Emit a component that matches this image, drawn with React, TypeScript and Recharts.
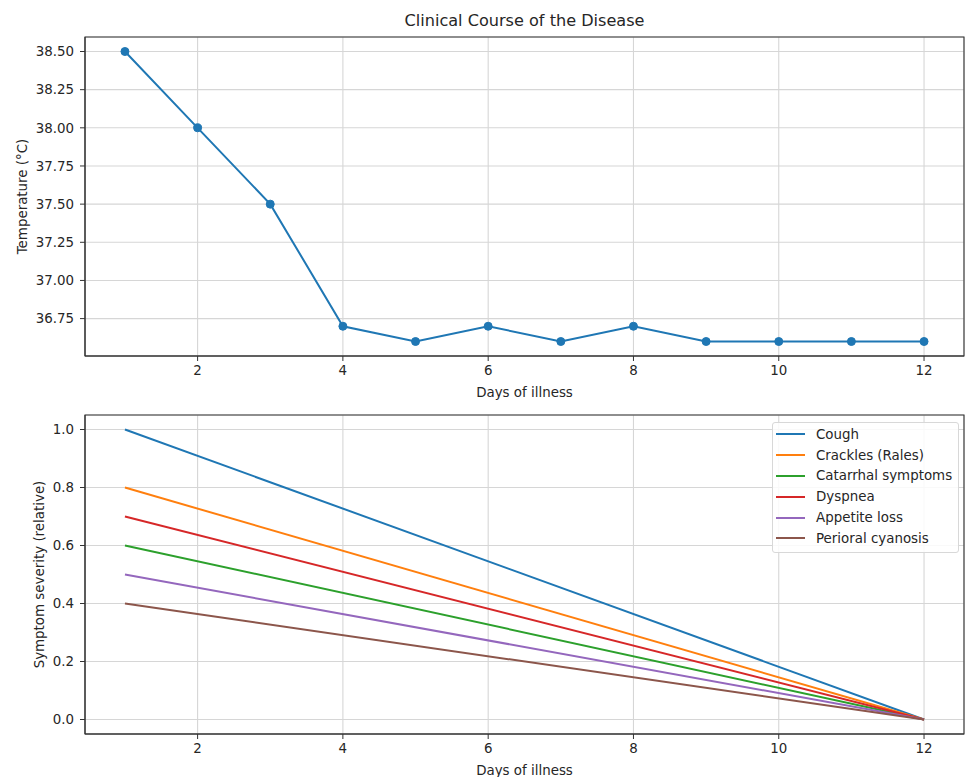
import React from "react";
import {
  LineChart,
  Line,
  XAxis,
  YAxis,
  CartesianGrid,
  Legend,
  ReferenceArea,
} from "recharts";

// temperature course, one reading per day
const days = [1, 2, 3, 4, 5, 6, 7, 8, 9, 10, 11, 12];
const temperature = [38.5, 38.0, 37.5, 36.7, 36.6, 36.7, 36.6, 36.7, 36.6, 36.6, 36.6, 36.6];

// symptom lines only have a start (day 1) and end (day 12) value
const severityDays = [1, 12];
const cough = [1.0, 0.0];
const crackles = [0.8, 0.0];
const catarrhal = [0.6, 0.0];
const dyspnea = [0.7, 0.0];
const appetiteLoss = [0.5, 0.0];
const perioralCyanosis = [0.4, 0.0];

const symptomNames = [
  "Cough",
  "Crackles (Rales)",
  "Catarrhal symptoms",
  "Dyspnea",
  "Appetite loss",
  "Perioral cyanosis",
];
const symptomValues = [cough, crackles, catarrhal, dyspnea, appetiteLoss, perioralCyanosis];
const symptomColors = ["#1f77b4", "#ff7f0e", "#2ca02c", "#d62728", "#9467bd", "#8c564b"];

const dayTicks = [2, 4, 6, 8, 10, 12];
const tempTicks = [36.75, 37.0, 37.25, 37.5, 37.75, 38.0, 38.25, 38.5];
const severityTicks = [0, 0.2, 0.4, 0.6, 0.8, 1.0];

const dayDomain = [0.45, 12.55];
const tempDomain = [36.505, 38.595];
const severityDomain = [-0.05, 1.05];

const FONT = "'DejaVu Sans', sans-serif";
const TEXT = "#262626";
const FRAME = "#333333";
const GRID = "#d6d6d6";

const tempData = days.map((d, i) => ({ day: d, temp: temperature[i] }));

const severityData = severityDays.map((d, i) => {
  const row: any = { day: d };
  symptomNames.forEach((name, k) => {
    row[name] = symptomValues[k][i];
  });
  return row;
});

const tickStyle = { fontSize: 13.4, fill: TEXT, fontFamily: FONT };

// rotated y-axis title, centred on the plot height
const yLabel = (text: string, x: number) => (props: any) => {
  const vb = props.viewBox || {};
  const cy = vb.y + vb.height / 2;
  return (
    <text
      x={x}
      y={cy}
      transform={`rotate(-90 ${x} ${cy})`}
      textAnchor="middle"
      dominantBaseline="central"
      fontSize={13.4}
      fontFamily={FONT}
      fill={TEXT}
    >
      {text}
    </text>
  );
};

const LegendBox = ({ payload }: any) => {
  // keep the plotting order, recharts sorts by name otherwise
  const items = [...(payload || [])].sort(
    (a: any, b: any) => symptomNames.indexOf(a.value) - symptomNames.indexOf(b.value)
  );
  return (
    <div
      style={{
        border: "1px solid #d8d8d8",
        borderRadius: 3,
        background: "rgba(255,255,255,0.85)",
        padding: "1px 6px 3px 3px",
        fontFamily: FONT,
        fontSize: 13.4,
        color: TEXT,
      }}
    >
      {items.map((p: any) => (
        <div key={p.value} style={{ display: "flex", alignItems: "center", height: 20.8 }}>
          <span
            style={{
              display: "inline-block",
              width: 29,
              height: 2,
              background: p.color,
              marginRight: 11,
            }}
          />
          <span>{p.value}</span>
        </div>
      ))}
    </div>
  );
};

export default function App() {
  return (
    <div
      style={{
        position: "absolute",
        left: 0,
        top: 0,
        width: 965,
        height: 777,
        background: "#fff",
      }}
    >
      <div
        style={{
          position: "absolute",
          left: 85,
          top: 11,
          width: 879,
          textAlign: "center",
          fontFamily: FONT,
          fontSize: 16.1,
          lineHeight: "20px",
          color: TEXT,
        }}
      >
        Clinical Course of the Disease
      </div>

      <div style={{ position: "absolute", left: 0, top: 0 }}>
        <LineChart
          width={965}
          height={400}
          data={tempData}
          margin={{ top: 37, right: 1, left: 0, bottom: 0 }}
        >
          <CartesianGrid stroke={GRID} strokeWidth={1.1} />
          <XAxis
            dataKey="day"
            type="number"
            domain={dayDomain}
            ticks={dayTicks}
            height={44}
            tick={tickStyle}
            tickSize={5}
            tickMargin={4}
            stroke={FRAME}
            allowDataOverflow
            label={{
              value: "Days of illness",
              position: "insideBottom",
              offset: 3,
              fontSize: 13.4,
              fontFamily: FONT,
              fill: TEXT,
            }}
          />
          <YAxis
            type="number"
            domain={tempDomain}
            ticks={tempTicks}
            width={85}
            tick={tickStyle}
            tickSize={5}
            tickMargin={6}
            stroke={FRAME}
            allowDataOverflow
            tickFormatter={(v: number) => v.toFixed(2)}
            label={yLabel("Temperature (°C)", 22)}
          />
          <ReferenceArea
            x1={dayDomain[0]}
            x2={dayDomain[1]}
            y1={tempDomain[0]}
            y2={tempDomain[1]}
            fill="none"
            stroke={FRAME}
            strokeWidth={1.1}
            ifOverflow="visible"
          />
          <Line
            dataKey="temp"
            stroke="#1f77b4"
            strokeWidth={2}
            dot={{ r: 4, fill: "#1f77b4", stroke: "#1f77b4", strokeWidth: 1 }}
            isAnimationActive={false}
          />
        </LineChart>
      </div>

      <div style={{ position: "absolute", left: 0, top: 400 }}>
        <LineChart
          width={965}
          height={377}
          data={severityData}
          margin={{ top: 15, right: 1, left: 0, bottom: 0 }}
        >
          <CartesianGrid stroke={GRID} strokeWidth={1.1} />
          <XAxis
            dataKey="day"
            type="number"
            domain={dayDomain}
            ticks={dayTicks}
            height={43}
            tick={tickStyle}
            tickSize={5}
            tickMargin={4}
            stroke={FRAME}
            allowDataOverflow
            label={{
              value: "Days of illness",
              position: "insideBottom",
              offset: 2,
              fontSize: 13.4,
              fontFamily: FONT,
              fill: TEXT,
            }}
          />
          <YAxis
            type="number"
            domain={severityDomain}
            ticks={severityTicks}
            width={85}
            tick={tickStyle}
            tickSize={5}
            tickMargin={6}
            stroke={FRAME}
            allowDataOverflow
            tickFormatter={(v: number) => v.toFixed(1)}
            label={yLabel("Symptom severity (relative)", 39)}
          />
          <ReferenceArea
            x1={dayDomain[0]}
            x2={dayDomain[1]}
            y1={severityDomain[0]}
            y2={severityDomain[1]}
            fill="none"
            stroke={FRAME}
            strokeWidth={1.1}
            ifOverflow="visible"
          />
          <Legend
            layout="vertical"
            align="center"
            verticalAlign="middle"
            content={<LegendBox />}
            wrapperStyle={{ left: 772, top: 22, width: "auto", height: "auto" }}
          />
          {symptomNames.map((name, k) => (
            <Line
              key={name}
              dataKey={name}
              name={name}
              stroke={symptomColors[k]}
              strokeWidth={2}
              dot={false}
              isAnimationActive={false}
            />
          ))}
        </LineChart>
      </div>
    </div>
  );
}
